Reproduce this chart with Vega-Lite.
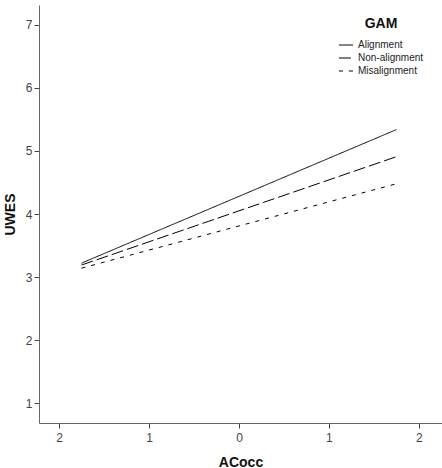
{
  "$schema": "https://vega.github.io/schema/vega-lite/v6.json",
  "width": 403,
  "height": 418,
  "autosize": "none",
  "padding": {"left": 39, "top": 5, "right": 0, "bottom": 45},
  "background": "white",
  "config": {
    "view": {"stroke": null},
    "font": "Liberation Sans",
    "axis": {"grid": false, "domainColor": "#666666", "tickColor": "#444444", "labelColor": "#444444", "labelFont": "Liberation Sans", "titleFont": "Liberation Sans", "labelFontSize": 12, "titleFontSize": 14, "titleFontWeight": "bold", "titleColor": "#111111", "tickSize": 5}
  },
  "data": {
    "values": [
      {"ACocc": -1.75, "UWES": 3.22, "GAM": "Alignment"},
      {"ACocc": 1.75, "UWES": 5.34, "GAM": "Alignment"},
      {"ACocc": -1.75, "UWES": 3.19, "GAM": "Non-alignment"},
      {"ACocc": 1.75, "UWES": 4.91, "GAM": "Non-alignment"},
      {"ACocc": -1.75, "UWES": 3.14, "GAM": "Misalignment"},
      {"ACocc": 1.75, "UWES": 4.48, "GAM": "Misalignment"}
    ]
  },
  "mark": {"type": "line", "color": "black", "strokeWidth": 1},
  "encoding": {
    "x": {"field": "ACocc", "type": "quantitative", "scale": {"domain": [-2.222, 2.256], "nice": false, "zero": false}, "axis": {"values": [-2, -1, 0, 1, 2], "labelExpr": "format(abs(datum.value), 'd')", "title": "ACocc", "titlePadding": 12, "labelPadding": 4}},
    "y": {"field": "UWES", "type": "quantitative", "scale": {"domain": [0.683, 7.317], "nice": false, "zero": false}, "axis": {"values": [1, 2, 3, 4, 5, 6, 7], "title": "UWES", "titlePadding": 8, "labelPadding": 2}},
    "strokeDash": {"field": "GAM", "type": "nominal", "scale": {"domain": ["Alignment", "Non-alignment", "Misalignment"], "range": [[1, 0], [12, 4], [4, 6]]}, "legend": {"orient": "none", "legendX": 299, "legendY": 12, "title": "GAM", "titleFontSize": 14, "titleFontWeight": "bold", "titleColor": "#111111", "titleAnchor": "middle", "titlePadding": 6, "labelFontSize": 10, "labelColor": "#222222", "symbolType": "stroke", "symbolSize": 200, "symbolStrokeColor": "black", "symbolStrokeWidth": 1, "rowPadding": 0}}
  }
}
